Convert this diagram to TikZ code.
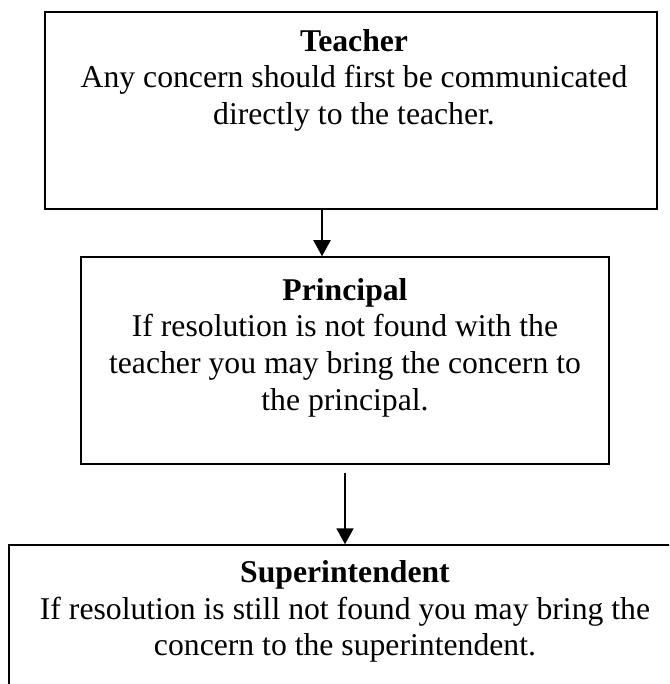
\documentclass[tikz,border=0pt]{standalone}
\usepackage{fontspec}
\setmainfont{Liberation Serif}
\usetikzlibrary{arrows.meta}

\begin{document}
\begin{tikzpicture}[
      x=1pt, y=-1pt,
      box/.style={rectangle, draw=black, line width=1.5pt, inner sep=0pt},
      boxtext/.style={anchor=north, align=center, inner sep=0pt, font=\fontsize{31.7}{36.8}\selectfont},
      pointer/.style={line width=2pt, -{Triangle[width=17pt,length=16pt]}, draw=black}
      ]
      \useasboundingbox (0,0) rectangle (669,684);
      \clip (0,0) rectangle (669,684);
      \node[box, minimum width=612pt, minimum height=197pt] (teacher) at (351,110.5) {};
      \node[box, minimum width=528pt, minimum height=207pt] (principal) at (345,360.5) {};
      \node[box, minimum width=691pt, minimum height=175pt] (super) at (354.5,632.5) {};
      \node[boxtext] (teacherlabel) at (354,29) {
        \textbf{Teacher}\\
        Any concern should first be communicated\\
        directly to the teacher.
      };
      \node[boxtext] (principallabel) at (345,278) {
        \textbf{Principal}\\
        If resolution is not found with the\\
        teacher you may bring the concern to\\
        the principal.
      };
      \node[boxtext] (superlabel) at (345,560) {
        \textbf{Superintendent}\\
        If resolution is still not found you may bring the\\
        concern to the superintendent.
      };
      \draw[pointer] ([xshift=-29pt]teacher.south) -- ([xshift=-29pt]teacher.south |- principal.north);
      \draw[pointer] ([yshift=-8pt]principal.south) -- (principal.south |- super.north);
    \end{tikzpicture}
\end{document}
